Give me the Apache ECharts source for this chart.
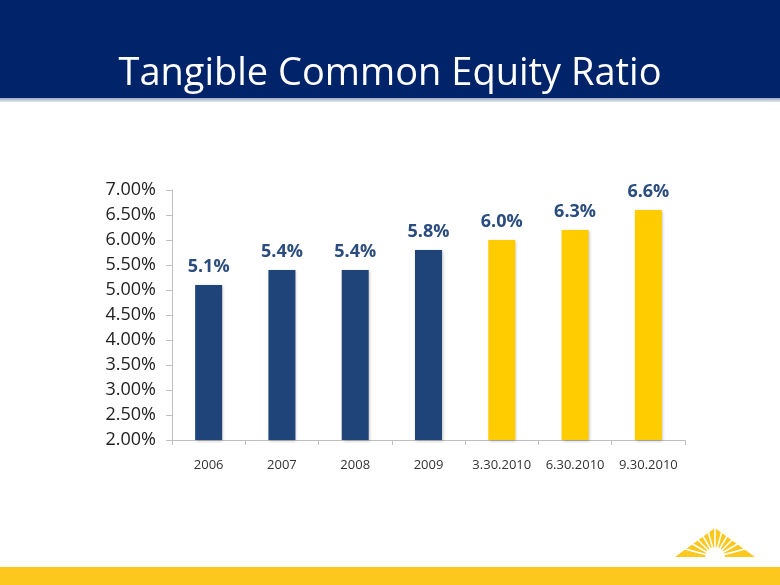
<!DOCTYPE html>
<html><head><meta charset="utf-8">
<script src="https://cdn.jsdelivr.net/npm/echarts@6/dist/echarts.min.js"></script>
<style>html,body{margin:0;padding:0;background:#fff}#c{width:780px;height:585px}</style>
</head><body><div id="c"></div>
<script>
const categories = ['2006','2007','2008','2009','3.30.2010','6.30.2010','9.30.2010'];
const values = [5.1, 5.4, 5.4, 5.8, 6.0, 6.2, 6.6];
const valueLabels = ['5.1%','5.4%','5.4%','5.8%','6.0%','6.3%','6.6%'];
const isProjected = [false,false,false,false,true,true,true];
const yTicks = [2.0,2.5,3.0,3.5,4.0,4.5,5.0,5.5,6.0,6.5,7.0];

const NAVY = '#1F4479', GOLD = '#FFCC00';
const chart = echarts.init(document.getElementById('c'));

// sunburst logo rays
const cx = 715, cy = 557;
const rays = [];
for (let i = 1; i < 12; i++) {
  const a = Math.PI * i / 12;
  rays.push({type:'line', shape:{x1:cx, y1:cy, x2:cx - Math.cos(a)*40, y2:cy - Math.sin(a)*40},
    style:{stroke:'#fff', lineWidth:1.6}, z:12});
}

chart.setOption({
  animation:false,
  grid:{left:172, right:95, top:190, bottom:145, containLabel:false},
  xAxis:{type:'category', data:categories,
    axisLine:{lineStyle:{color:'#BFBFBF'}},
    axisTick:{show:true, alignWithLabel:false, lineStyle:{color:'#BFBFBF'}, length:5},
    axisLabel:{interval:0, color:'#333', fontSize:13, fontFamily:'Open Sans', margin:19}},
  yAxis:{type:'value', min:2, max:7, interval:0.5,
    axisLine:{show:true, lineStyle:{color:'#BFBFBF'}},
    axisTick:{show:true, lineStyle:{color:'#BFBFBF'}, length:6},
    splitLine:{show:false},
    axisLabel:{color:'#222', fontSize:18, fontFamily:'Open Sans', margin:16,
      formatter:v => v.toFixed(2)+'%'}},
  series:[{type:'bar', barWidth:27,
    data: values.map((v,i)=>({value:v, itemStyle:{color: isProjected[i]?GOLD:NAVY}})),
    itemStyle:{shadowColor:'rgba(0,0,0,0.25)', shadowBlur:3, shadowOffsetX:1, shadowOffsetY:1},
    label:{show:true, position:'top', distance:9, color:'#2B4C7E', fontSize:18, fontWeight:'bold',
      fontFamily:'Open Sans', formatter:p => valueLabels[p.dataIndex]}}],
  graphic:[
    {type:'rect', shape:{x:0,y:0,width:780,height:98}, style:{fill:'#002369'}, z:10},
    {type:'rect', shape:{x:0,y:98,width:780,height:4},
      style:{fill:new echarts.graphic.LinearGradient(0,0,0,1,[{offset:0,color:'#9AA8C4'},{offset:1,color:'#E4E8F0'}])}, z:10},
    {type:'text', x:390, y:74, style:{text:'Tangible Common Equity Ratio', fill:'#fff',
      font:'38px "Open Sans"', textAlign:'center', textVerticalAlign:'middle'}, z:11},
    {type:'rect', shape:{x:0,y:567,width:780,height:18}, style:{fill:'#FCC81E'}, z:10},
    {type:'polygon', shape:{points:[[675,557],[715,528],[755,557]]}, style:{fill:'#FCC81E'}, z:11},
    ...rays,
    {type:'sector', shape:{cx:cx, cy:cy, r:10, startAngle:Math.PI, endAngle:2*Math.PI}, style:{fill:'#fff'}, z:13}
  ]
});
</script></body></html>
